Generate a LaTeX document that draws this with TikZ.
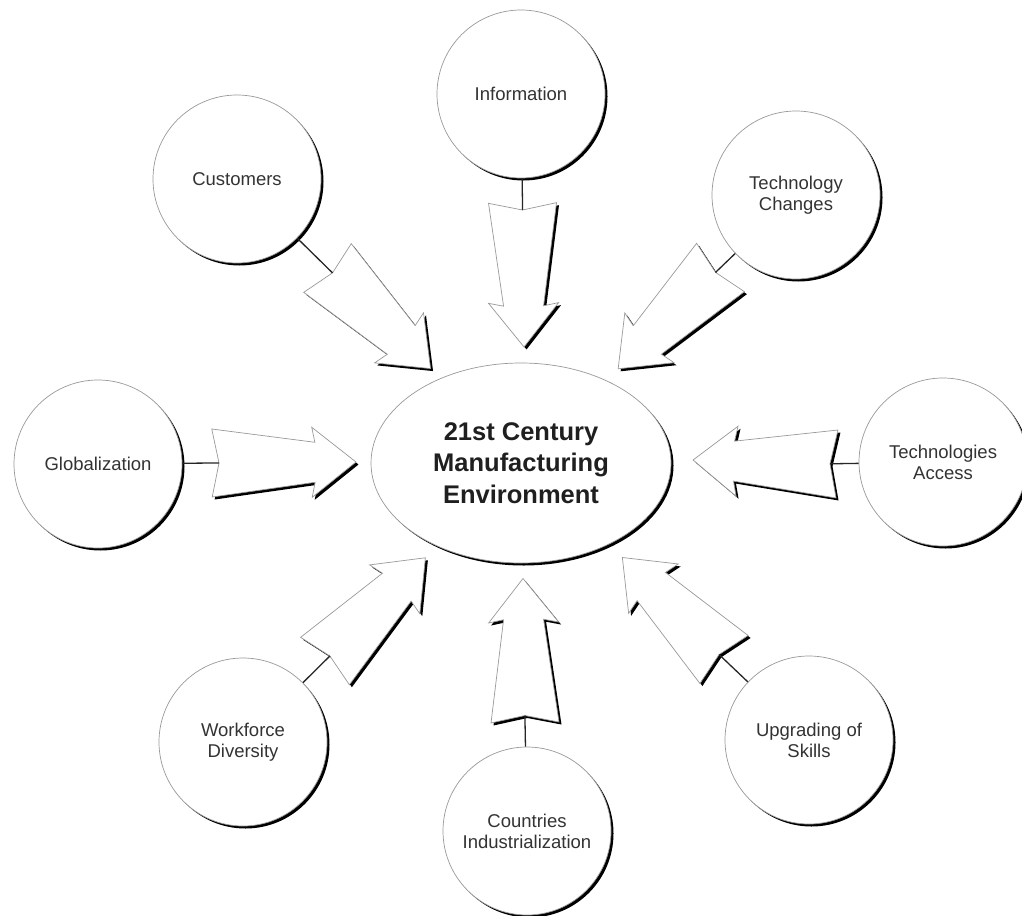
\documentclass[tikz,border=0pt]{standalone}
\usepackage{fontspec}
\setmainfont{Liberation Sans}
\usetikzlibrary{shadows,shapes.geometric}

\tikzset{
  hardshadow/.style={drop shadow={shadow xshift=2.5pt, shadow yshift=-2.5pt, fill=black, opacity=1}},
  factor/.style={circle, draw=black!40, line width=0.7pt, fill=white,
    minimum size=168pt, inner sep=0pt, align=center, text=black!80,
    font=\fontsize{18.5}{21}\selectfont, hardshadow},
  core/.style={ellipse, draw=black!40, line width=0.7pt, fill=white,
    minimum width=300pt, minimum height=200pt, inner sep=0pt, align=center,
    text=black!88, font=\fontsize{25.5}{31.5}\selectfont\bfseries, hardshadow},
  arrowbody/.style={fill=white, draw=black!40, line width=0.7pt, line join=miter},
  arrowshade/.style={fill=black},
  link/.style={draw=black!85, line width=1.3pt}
}

% notched, tapered block arrow: #1 name of notch point, (#2,#3) tail centre, #4 direction
\newcommand\pusharrow[4]{%
  \begin{scope}[shift={(#2+2.5,#3+2.5)}, rotate=#4]
    \path[arrowshade] (0,34) -- (103,20) -- (100,35) -- (144,0) -- (100,-35)
      -- (103,-20) -- (0,-34) -- (7,0) -- cycle;
  \end{scope}
  \begin{scope}[shift={(#2,#3)}, rotate=#4]
    \path[arrowbody] (0,34) -- (103,20) -- (100,35) -- (144,0) -- (100,-35)
      -- (103,-20) -- (0,-34) -- (7,0) -- cycle;
    \coordinate (#1) at (7,0);
  \end{scope}}

\begin{document}
\begin{tikzpicture}[x=1pt,y=-1pt]
  \fill[white] (0,0) rectangle (1022,915);
  \useasboundingbox (0,0) rectangle (1022,915);

  % centre
  \node[core] (env) at (521,463) {21st Century\\Manufacturing\\Environment};

  % surrounding factors
  \node[factor] (info)   at (521,94)  {Information};
  \node[factor] (cust)   at (237,179) {Customers};
  \node[factor] (techch) at (796,195) {Technology\\Changes};
  \node[factor] (glob)   at (98,464)  {Globalization};
  \node[factor] (access) at (943,462) {Technologies\\Access};
  \node[factor] (work)   at (243,742) {Workforce\\Diversity};
  \node[factor] (ctry)   at (527,831) {Countries\\Industrialization};
  \node[factor] (skill)  at (809,740) {Upgrading of\\Skills};

  % block arrows pointing at the centre
  \pusharrow{n-info}{522.5}{203}{-89.4}
  \pusharrow{n-cust}{327.5}{268}{-44.3}
  \pusharrow{n-techch}{720.5}{267.5}{-135.3}
  \pusharrow{n-glob}{212}{463}{0.4}
  \pusharrow{n-access}{837}{464}{178.4}
  \pusharrow{n-work}{325}{661}{45.8}
  \pusharrow{n-ctry}{525}{722.5}{90.8}
  \pusharrow{n-skill}{724}{659.5}{134.9}

  % short stems from each factor to its arrow
  \draw[link] (info)   -- (n-info);
  \draw[link] (cust)   -- (n-cust);
  \draw[link] (techch) -- (n-techch);
  \draw[link] (glob)   -- (n-glob);
  \draw[link] (access) -- (n-access);
  \draw[link] (work)   -- (n-work);
  \draw[link] (ctry)   -- (n-ctry);
  \draw[link] (skill)  -- (n-skill);
\end{tikzpicture}
\end{document}
